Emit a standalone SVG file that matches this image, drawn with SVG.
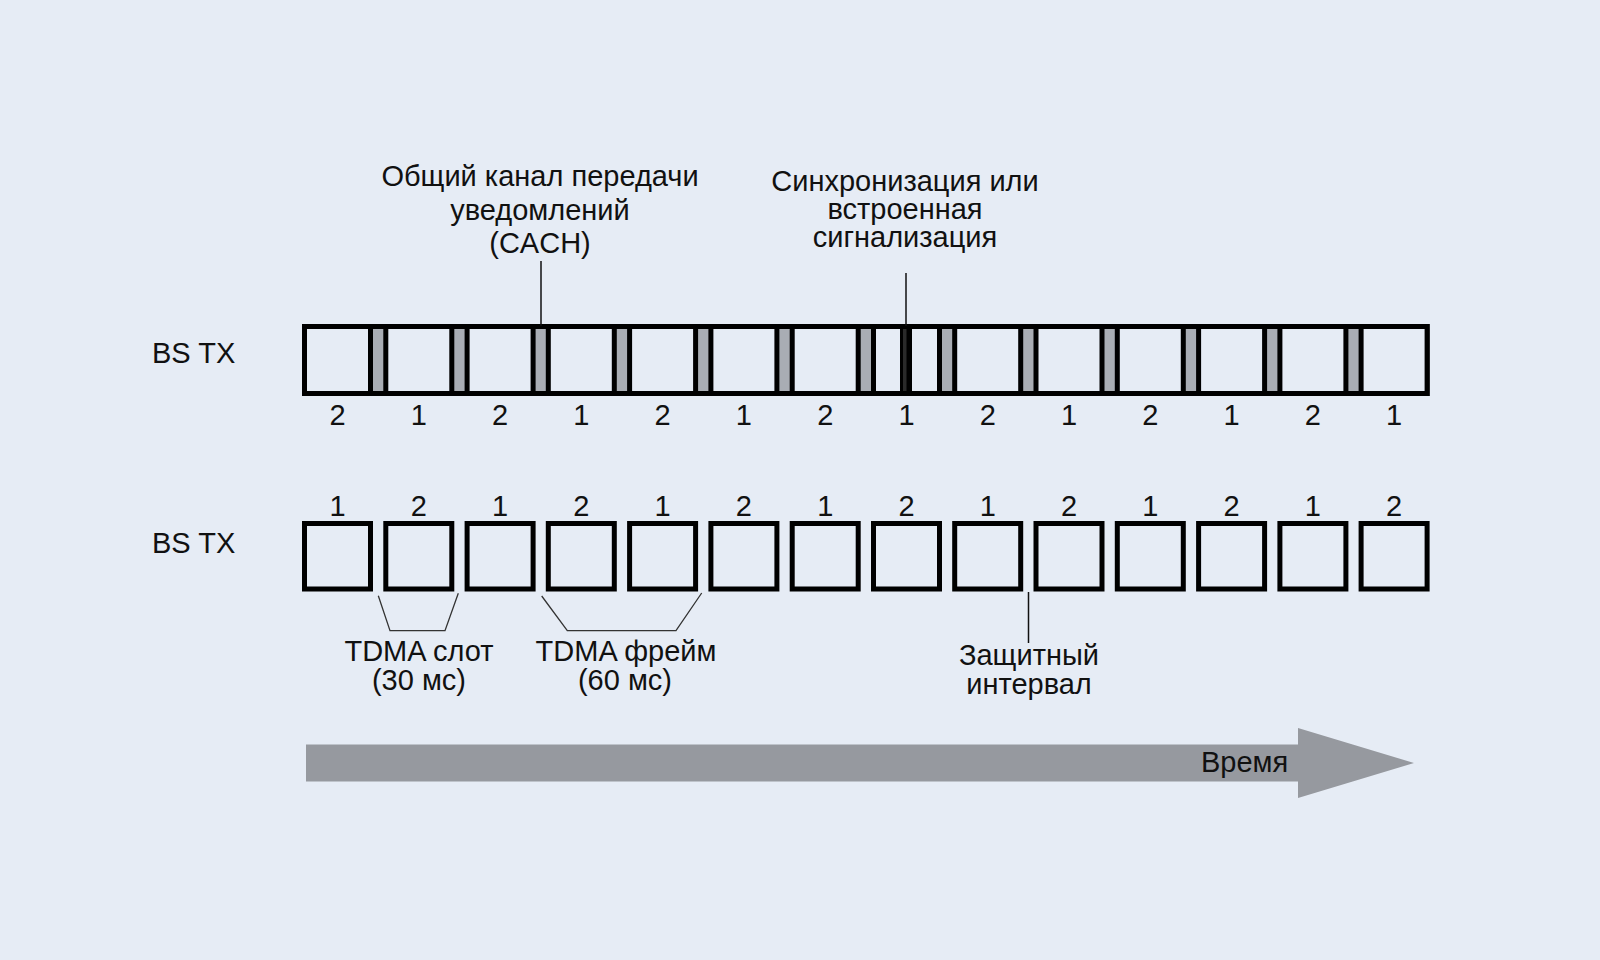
<svg xmlns="http://www.w3.org/2000/svg" width="1600" height="960" viewBox="0 0 1600 960">
<style>
  .bg{fill:#e6ecf5}
  .t{font-family:"Liberation Sans",Arial,sans-serif;font-size:29px;fill:#111}
  .c{text-anchor:middle}
  .slot{fill:#e6ecf5;stroke:#000;stroke-width:5}
  .frame{fill:#a9adb4;stroke:#000;stroke-width:5}
  .lead{stroke:#111;stroke-width:1.5;fill:none}
  .brk{stroke:#333;stroke-width:1.3;fill:none}
</style>
<rect class="bg" x="0" y="0" width="1600" height="960"/>

<g id="row-labels">
  <text class="t" x="152" y="363">BS TX</text>
  <text class="t" x="152" y="553">BS TX</text>
</g>

<g id="label-cach">
  <text class="t c" x="540" y="186">Общий канал передачи</text>
  <text class="t c" x="540" y="219.5">уведомлений</text>
  <text class="t c" x="540" y="253">(CACH)</text>
</g>
<g id="label-sync">
  <text class="t c" x="905" y="191">Синхронизация или</text>
  <text class="t c" x="905" y="219">встроенная</text>
  <text class="t c" x="905" y="247">сигнализация</text>
</g>

<g id="top-row">
  <rect class="frame" x="304.5" y="326.5" width="1122.6" height="67"/>
  <rect class="slot" x="304.5" y="326.5" width="66" height="67"/>
  <rect class="slot" x="385.8" y="326.5" width="66" height="67"/>
  <rect class="slot" x="467.1" y="326.5" width="66" height="67"/>
  <rect class="slot" x="548.3" y="326.5" width="66" height="67"/>
  <rect class="slot" x="629.6" y="326.5" width="66" height="67"/>
  <rect class="slot" x="710.9" y="326.5" width="66" height="67"/>
  <rect class="slot" x="792.2" y="326.5" width="66" height="67"/>
  <rect class="slot" x="873.5" y="326.5" width="66" height="67"/>
  <rect class="slot" x="954.7" y="326.5" width="66" height="67"/>
  <rect class="slot" x="1036.0" y="326.5" width="66" height="67"/>
  <rect class="slot" x="1117.3" y="326.5" width="66" height="67"/>
  <rect class="slot" x="1198.6" y="326.5" width="66" height="67"/>
  <rect class="slot" x="1279.9" y="326.5" width="66" height="67"/>
  <rect class="slot" x="1361.1" y="326.5" width="66" height="67"/>
  <rect x="900" y="328" width="12" height="64" fill="#000"/>
  <rect x="903" y="329" width="3.5" height="62" fill="#2a2a2a"/>
</g>

<g id="top-numbers">
  <text class="t c" x="337.5" y="425">2</text>
  <text class="t c" x="418.8" y="425">1</text>
  <text class="t c" x="500.1" y="425">2</text>
  <text class="t c" x="581.3" y="425">1</text>
  <text class="t c" x="662.6" y="425">2</text>
  <text class="t c" x="743.9" y="425">1</text>
  <text class="t c" x="825.2" y="425">2</text>
  <text class="t c" x="906.5" y="425">1</text>
  <text class="t c" x="987.7" y="425">2</text>
  <text class="t c" x="1069.0" y="425">1</text>
  <text class="t c" x="1150.3" y="425">2</text>
  <text class="t c" x="1231.6" y="425">1</text>
  <text class="t c" x="1312.9" y="425">2</text>
  <text class="t c" x="1394.1" y="425">1</text>
</g>

<g id="bottom-numbers">
  <text class="t c" x="337.5" y="516">1</text>
  <text class="t c" x="418.8" y="516">2</text>
  <text class="t c" x="500.1" y="516">1</text>
  <text class="t c" x="581.3" y="516">2</text>
  <text class="t c" x="662.6" y="516">1</text>
  <text class="t c" x="743.9" y="516">2</text>
  <text class="t c" x="825.2" y="516">1</text>
  <text class="t c" x="906.5" y="516">2</text>
  <text class="t c" x="987.7" y="516">1</text>
  <text class="t c" x="1069.0" y="516">2</text>
  <text class="t c" x="1150.3" y="516">1</text>
  <text class="t c" x="1231.6" y="516">2</text>
  <text class="t c" x="1312.9" y="516">1</text>
  <text class="t c" x="1394.1" y="516">2</text>
</g>

<g id="bottom-row">
  <rect class="slot" x="304.5" y="523.5" width="66" height="65.5"/>
  <rect class="slot" x="385.8" y="523.5" width="66" height="65.5"/>
  <rect class="slot" x="467.1" y="523.5" width="66" height="65.5"/>
  <rect class="slot" x="548.3" y="523.5" width="66" height="65.5"/>
  <rect class="slot" x="629.6" y="523.5" width="66" height="65.5"/>
  <rect class="slot" x="710.9" y="523.5" width="66" height="65.5"/>
  <rect class="slot" x="792.2" y="523.5" width="66" height="65.5"/>
  <rect class="slot" x="873.5" y="523.5" width="66" height="65.5"/>
  <rect class="slot" x="954.7" y="523.5" width="66" height="65.5"/>
  <rect class="slot" x="1036.0" y="523.5" width="66" height="65.5"/>
  <rect class="slot" x="1117.3" y="523.5" width="66" height="65.5"/>
  <rect class="slot" x="1198.6" y="523.5" width="66" height="65.5"/>
  <rect class="slot" x="1279.9" y="523.5" width="66" height="65.5"/>
  <rect class="slot" x="1361.1" y="523.5" width="66" height="65.5"/>
</g>

<g id="connectors">
  <line class="lead" x1="541" y1="261" x2="541" y2="326"/>
  <line class="lead" x1="906" y1="273" x2="906" y2="326"/>
  <polyline class="brk" points="378.3,595.7 390,630.7 445,630.7 458.3,593.3"/>
  <polyline class="brk" points="541.7,596 567.3,630.7 676,630.7 701.7,593"/>
  <line class="lead" x1="1028.5" y1="592" x2="1028.5" y2="643"/>
</g>

<g id="label-slot">
  <text class="t c" x="419" y="661">TDMA слот</text>
  <text class="t c" x="419" y="690">(30 мс)</text>
</g>
<g id="label-frame">
  <text class="t c" x="626" y="661">TDMA фрейм</text>
  <text class="t c" x="625" y="690">(60 мс)</text>
</g>
<g id="label-guard">
  <text class="t c" x="1029" y="665">Защитный</text>
  <text class="t c" x="1029" y="694">интервал</text>
</g>

<g id="time-arrow">
  <polygon points="306,744.5 1298,744.5 1298,728 1414,763 1298,798 1298,781.5 306,781.5" fill="#96999f"/>
  <text class="t" x="1201" y="772">Время</text>
</g>
</svg>
